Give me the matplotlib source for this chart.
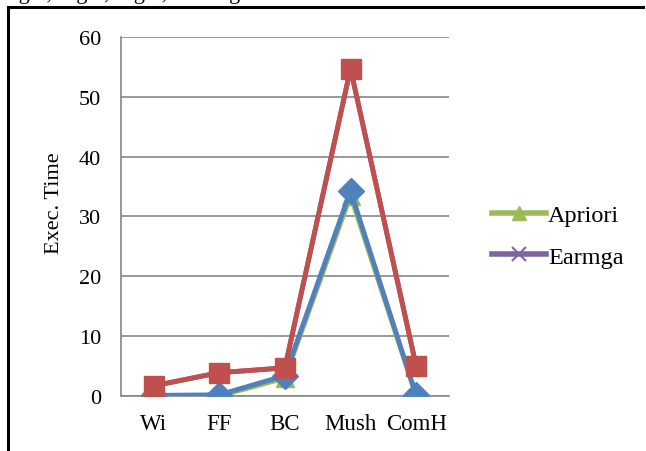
import matplotlib

matplotlib.use("Agg")
import matplotlib.pyplot as plt
from matplotlib.lines import Line2D

plt.rcParams["font.family"] = ["Liberation Serif", "DejaVu Serif"]

# data
datasets = ["Wi", "FF", "BC", "Mush", "ComH"]
apriori = [0.0, 0.0, 3.0, 33.5, 0.0]
earmga = [1.7, 3.9, 4.7, 54.7, 5.0]
series_red = [1.7, 3.9, 4.7, 54.7, 5.0]
series_blue = [0.1, 0.2, 3.4, 34.3, 0.1]
y_ticks = [0, 10, 20, 30, 40, 50, 60]

GREEN = "#9BBB59"
PURPLE = "#8064A2"
RED = "#C0504D"
BLUE = "#4F81BD"

fig = plt.figure(figsize=(6.46, 4.52), dpi=100)
ax = fig.add_axes([0.187, 0.1217, 0.508, 0.7943])

xs = range(len(datasets))
ax.plot(xs, earmga, color=PURPLE, lw=3.5, marker="x", ms=10, mew=2, zorder=2)
ax.plot(xs, apriori, color=GREEN, lw=3.5, marker="^", ms=13, zorder=3)
ax.plot(xs, series_blue, color=BLUE, lw=3.5, marker="D", ms=13, zorder=4)
ax.plot(xs, series_red, color=RED, lw=3.5, marker="s", ms=14, zorder=5)

ax.set_xlim(-0.5, len(datasets) - 0.5)
ax.set_ylim(0, 60)
ax.set_yticks(y_ticks)
ax.set_xticks(list(xs))
ax.set_xticklabels(datasets, fontsize=16.5)
ax.tick_params(axis="both", length=0)
ax.tick_params(axis="y", pad=14, labelsize=16)
ax.tick_params(axis="x", pad=12)
ax.grid(axis="y", color="#868686", lw=1.2)
ax.set_axisbelow(True)
for side in ("top", "right"):
    ax.spines[side].set_visible(False)
for side in ("left", "bottom"):
    ax.spines[side].set_color("#868686")
    ax.spines[side].set_linewidth(1.2)

fig.text(0.085, 0.55, "Exec. Time", rotation=90, ha="center", va="center", fontsize=16)

handles = [
    Line2D([], [], color=GREEN, lw=4, marker="^", ms=10),
    Line2D([], [], color=PURPLE, lw=4, marker="x", ms=10, mew=1.5),
]
fig.legend(handles, ["Apriori", "Earmga"], loc="center left",
           bbox_to_anchor=(0.728, 0.476), frameon=False, fontsize=17.5,
           handlelength=2.2, handletextpad=0.1, labelspacing=0.8)

# frame of the surrounding figure box (top and left edges only)
fig.add_artist(Line2D([0.0124, 0.995], [0.982, 0.982], color="black", lw=2.2))
fig.add_artist(Line2D([0.0124, 0.0124], [0.0, 0.982], color="black", lw=2.2))

# caption line from the page above, mostly cut off
fig.text(0.0, 1.012, "Fig.2, Fig.3, Fig.4, and Fig.5.", ha="left", va="center", fontsize=16)

fig.savefig("out.png", dpi=100)
